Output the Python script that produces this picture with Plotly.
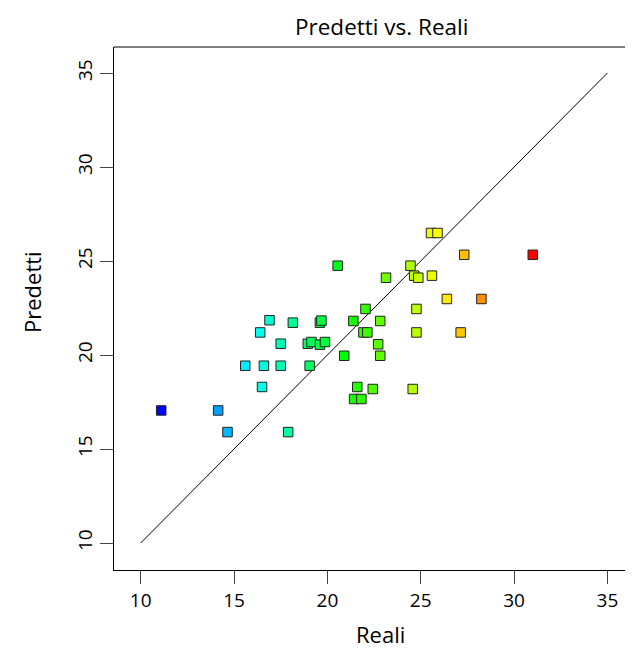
import plotly.graph_objects as go

reali = [11.1, 14.15, 14.65, 17.9, 15.6, 16.6, 17.5, 19.05, 16.5, 16.4,
         16.9, 18.15, 19.6, 19.68, 17.5, 18.95, 19.15, 19.6, 19.87, 20.55,
         24.45, 24.65, 24.87, 25.6, 23.14, 27.33, 28.25, 26.4, 24.77, 22.04,
         21.39, 22.83, 21.93, 22.14, 24.77, 27.14, 22.72, 22.83, 20.9, 21.6,
         22.43, 24.57, 21.43, 21.82, 31.0, 25.55, 25.9]
predetti = [17.05, 17.05, 15.9, 15.9, 19.43, 19.43, 19.43, 19.43, 18.3, 21.2,
            21.85, 21.72, 21.72, 21.83, 20.6, 20.6, 20.69, 20.55, 20.69, 24.75,
            24.75, 24.22, 24.11, 24.22, 24.11, 25.33, 22.98, 22.98, 22.45, 22.45,
            21.81, 21.81, 21.2, 21.2, 21.2, 21.2, 20.57, 19.96, 19.96, 18.3,
            18.19, 18.19, 17.66, 17.66, 25.33, 26.49, 26.49]
diag = [10, 35]
ticks = [10, 15, 20, 25, 30, 35]

FONT = "Open Sans"
OFF = 8  # default body margin of the page
W, H = 633 - OFF, 652 - OFF
L, T, B = 114 - OFF, 47 - OFF, 652 - 570
PW, PH = W - L, H - T - B


def px(xw):
    return (xw - OFF - L) / PW


def py(yw):
    return (H - B - (yw - OFF)) / PH


fig = go.Figure()
fig.add_trace(go.Scatter(x=diag, y=diag, mode="lines",
                         line=dict(color="black", width=1), hoverinfo="skip"))
fig.add_trace(go.Scatter(
    x=reali, y=predetti, mode="markers",
    marker=dict(symbol="square", size=9.5, color=reali, cmin=11, cmax=31,
                colorscale=[[0, "#0000ff"], [0.25, "#00ffff"], [0.5, "#00ff00"],
                            [0.75, "#ffff00"], [1, "#ff0000"]],
                line=dict(color="#222222", width=1))))

fig.update_layout(
    width=W, height=H, showlegend=False,
    plot_bgcolor="white", paper_bgcolor="white",
    margin=dict(l=L, r=0, t=T, b=B),
    font=dict(family=FONT, size=19, color="black"),
    xaxis=dict(range=[8.57, 36.37], tickvals=ticks, showgrid=False, zeroline=False,
               showline=True, linecolor="black", linewidth=1,
               ticks="outside", ticklen=13, tickcolor="#444", tickwidth=1),
    yaxis=dict(range=[8.564, 36.383], tickvals=ticks, showgrid=False, zeroline=False,
               showline=True, linecolor="black", linewidth=1, tickangle=-90,
               ticks="outside", ticklen=13, tickcolor="#444", tickwidth=1),
    shapes=[dict(type="line", xref="paper", yref="paper", x0=0, x1=1, y0=1, y1=1,
                 line=dict(color="black", width=1))],
    annotations=[
        dict(text="Predetti vs. Reali", xref="paper", yref="paper",
             x=px(381), y=py(27), xanchor="center", yanchor="middle",
             showarrow=False, font=dict(size=22.5)),
        dict(text="Reali", xref="paper", yref="paper",
             x=px(380), y=py(634), xanchor="center", yanchor="middle",
             showarrow=False, font=dict(size=22)),
        dict(text="Predetti", xref="paper", yref="paper", textangle=-90,
             x=px(32), y=py(292), xanchor="center", yanchor="middle",
             showarrow=False, font=dict(size=22)),
    ],
)
fig.write_html("out.html")
